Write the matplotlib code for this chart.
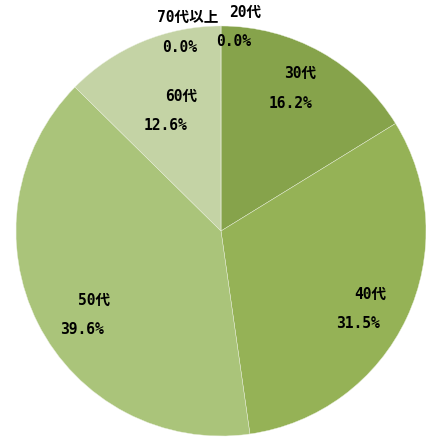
import matplotlib
matplotlib.use("agg")
import matplotlib.pyplot as plt

# mono digits for the gothic look, CJK font for the kanji
plt.rcParams['font.family'] = ['DejaVu Sans Mono', 'Noto Sans CJK JP']

labels = ["20代", "30代", "40代", "50代", "60代", "70代以上"]
values = [0.0, 16.2, 31.5, 39.6, 12.6, 0.0]
colors = ["#7F9C45", "#86A34B", "#95B256", "#AAC47A", "#C4D3A5", "#D5E0BE"]

# label positions in pixels (name, percent) from the reference
name_px = [(245, 12), (300, 73), (370, 294), (94, 300), (181, 96), (188, 17)]
pct_px = [(234, 42), (291, 103), (358, 324), (82, 330), (166, 126), (180, 47)]

W, H = 427, 439
cx, cy, r = 221, 232, 205

fig = plt.figure(figsize=(W / 100, H / 100), dpi=100)
ax = fig.add_axes([(cx - r) / W, (H - cy - r) / H, 2 * r / W, 2 * r / H])
ax.pie(values, colors=colors, startangle=90, counterclock=False,
       radius=1, wedgeprops=dict(edgecolor="#E8EEDC", linewidth=0.3))
ax.set_xlim(-1, 1)
ax.set_ylim(-1, 1)
ax.axis("off")


def to_data(p):
    return (p[0] - cx) / r, (cy - p[1]) / r


for lab, v, npx, ppx in zip(labels, values, name_px, pct_px):
    x, y = to_data(npx)
    ax.text(x, y, lab, ha="center", va="center", fontsize=10.5, fontweight="bold")
    x, y = to_data(ppx)
    ax.text(x, y, "%.1f%%" % v, ha="center", va="center", fontsize=10.5, fontweight="bold")

fig.savefig("out.png", dpi=100)
